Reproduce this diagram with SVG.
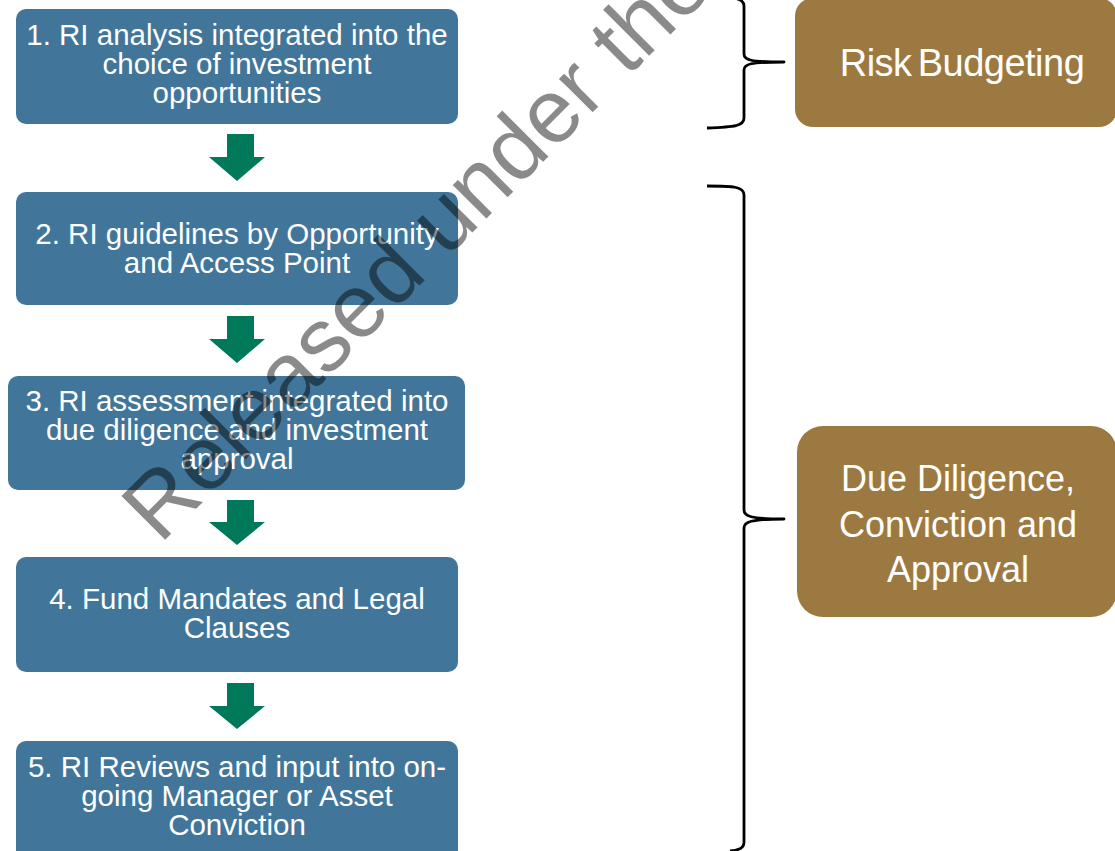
<svg xmlns="http://www.w3.org/2000/svg" width="1115" height="851" viewBox="0 0 1115 851">
  <style>
    .step { fill: #41769A; }
    .phase { fill: #9D7942; }
    .lbl { font-family: "Liberation Sans", Arial, sans-serif; fill: #FFFFFF; text-anchor: middle; }
    .s { font-size: 29.5px; }
    .arrow { fill: #00785A; }
    .brace { fill: none; stroke: #000000; stroke-width: 2.8; stroke-linejoin: round; }
    .mark { font-family: "Liberation Sans", Arial, sans-serif; font-size: 90px; fill: #000000; fill-opacity: 0.46; }
  </style>
  <rect width="1115" height="851" fill="#FFFFFF"/>

  <!-- process steps -->
  <g id="step1">
    <rect class="step" x="16" y="9" width="442" height="115" rx="10"/>
    <text class="lbl s" x="237" y="45">1. RI analysis integrated into the</text>
    <text class="lbl s" x="237" y="74">choice of investment</text>
    <text class="lbl s" x="237" y="103">opportunities</text>
  </g>
  <g id="step2">
    <rect class="step" x="16" y="192" width="442" height="113" rx="10"/>
    <text class="lbl s" x="237" y="244">2. RI guidelines by Opportunity</text>
    <text class="lbl s" x="237" y="273">and Access Point</text>
  </g>
  <g id="step3">
    <rect class="step" x="8" y="376" width="457" height="114" rx="10"/>
    <text class="lbl s" x="237" y="411">3. RI assessment integrated into</text>
    <text class="lbl s" x="237" y="440">due diligence and investment</text>
    <text class="lbl s" x="237" y="469">approval</text>
  </g>
  <g id="step4">
    <rect class="step" x="16" y="557" width="442" height="115" rx="10"/>
    <text class="lbl s" x="237" y="609">4. Fund Mandates and Legal</text>
    <text class="lbl s" x="237" y="638">Clauses</text>
  </g>
  <g id="step5">
    <rect class="step" x="16" y="741" width="442" height="125" rx="10"/>
    <text class="lbl s" x="237" y="777">5. RI Reviews and input into on-</text>
    <text class="lbl s" x="237" y="806">going Manager or Asset</text>
    <text class="lbl s" x="237" y="835">Conviction</text>
  </g>

  <!-- phases -->
  <g id="phase-risk">
    <rect class="phase" x="795" y="-2" width="322" height="129" rx="18"/>
    <text class="lbl" x="962" y="76" font-size="38" letter-spacing="-0.5" word-spacing="-4">Risk Budgeting</text>
  </g>
  <g id="phase-due">
    <rect class="phase" x="797" y="426" width="320" height="191" rx="26"/>
    <text class="lbl" x="958" y="491" font-size="36">Due Diligence,</text>
    <text class="lbl" x="958" y="537" font-size="36">Conviction and</text>
    <text class="lbl" x="958" y="582" font-size="36">Approval</text>
  </g>

  <!-- connectors: flow arrows and grouping braces -->
  <g id="connectors">
    <polygon class="arrow" points="227,134 254,134 254,157 265,157 237,181 209,157 227,157"/>
    <polygon class="arrow" points="227,316 254,316 254,339 265,339 237,363 209,339 227,339"/>
    <polygon class="arrow" points="227,500 254,500 254,522 265,522 237,545 209,522 227,522"/>
    <polygon class="arrow" points="227,683 254,683 254,706 265,706 237,729 209,706 227,706"/>
    <path class="brace" d="M707,-3 C735,-3 744,-2 744,6 L744,54 C744,60 750,62 784,62 C750,62 744,64 744,70 L744,118 C744,126 735,127 707,128"/>
    <path class="brace" d="M707,186 C735,186 744,187 744,195 L744,510 C744,516 750,519 784,519 C750,519 744,522 744,528 L744,842 C744,849 738,850 730,851"/>
  </g>

  <!-- watermark -->
  <text class="mark" transform="translate(160,545) rotate(-45)">Released under the</text>
</svg>
